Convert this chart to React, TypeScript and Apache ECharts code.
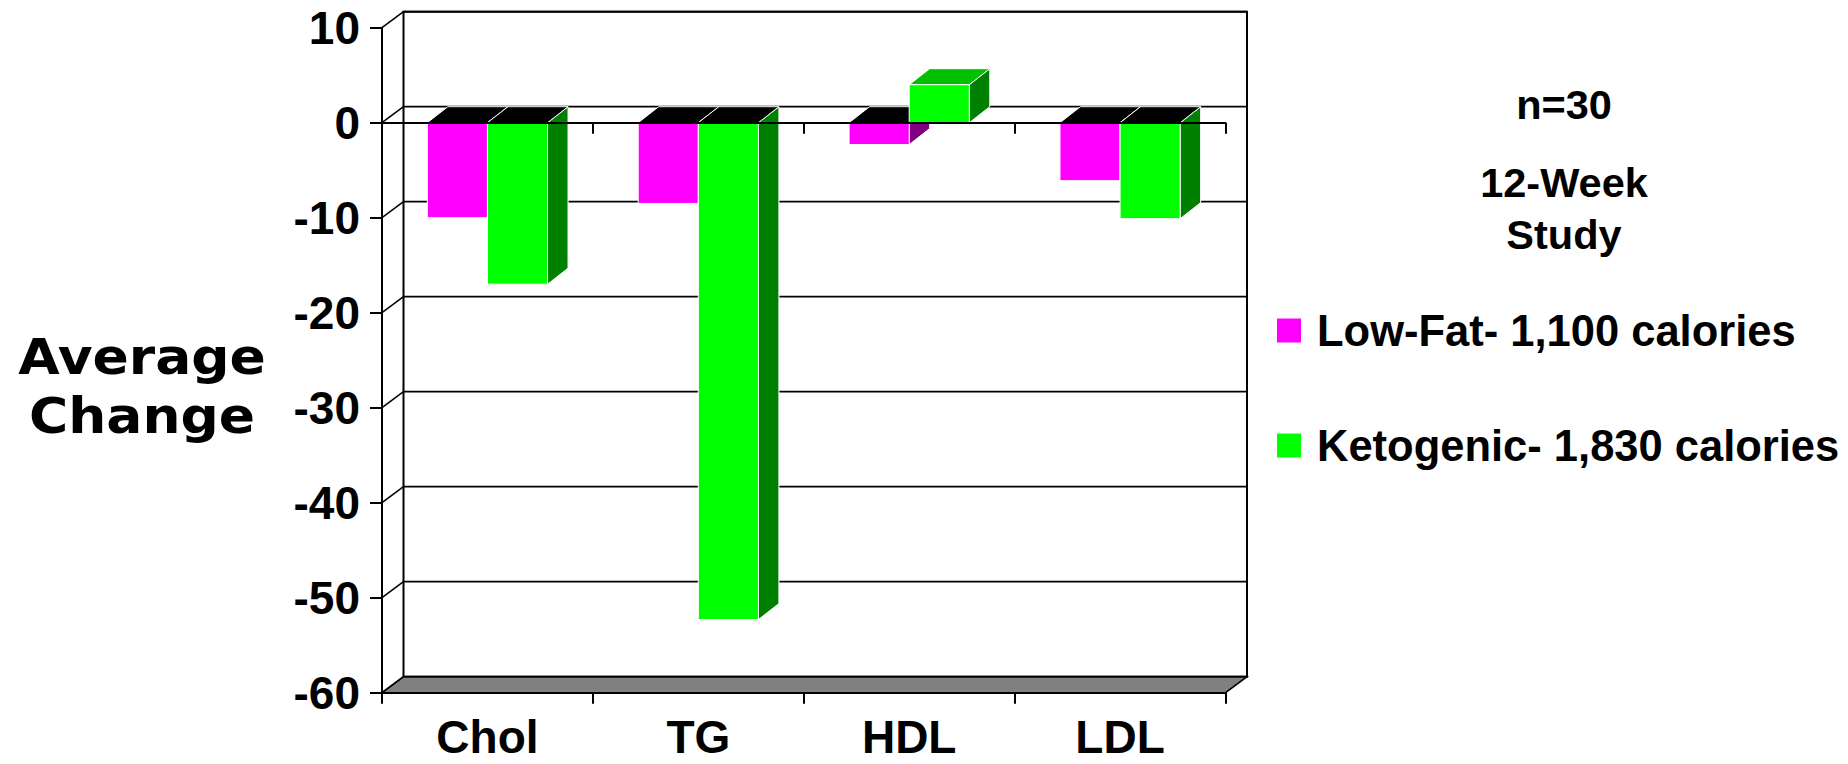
import React, { useEffect, useRef } from "react";
import * as echarts from "echarts";

const categories = ["Chol", "TG", "HDL", "LDL"];
const lowFatValues = [-10, -8.5, -2.3, -6.1];
const ketoValues = [-17, -52.3, 4, -10.1];
const yTicks = [10, 0, -10, -20, -30, -40, -50, -60];
const seriesNames = ["Low-Fat- 1,100 calories", "Ketogenic- 1,830 calories"];
const titleLines = ["n=30", "12-Week", "Study"];
const yTitleLines = ["Average", "Change"];

const FRONT = ["#FF00FF", "#00FF00"];
const SIDE = ["#800080", "#008000"];
const TOP_POS = ["#C000C0", "#00C000"];
const WALL_DX = 21.5;
const WALL_DY = -16;
const BAR_DX = 20.5;
const BAR_DY = -16;

export default function App() {
  const ref = useRef<HTMLDivElement>(null);

  useEffect(() => {
    const chart = echarts.init(ref.current!, undefined, { renderer: "svg" });
    const font = "'Liberation Sans', Arial, Helvetica, sans-serif";

    const makeBar = (s: number, values: number[]) => ({
      type: "custom",
      name: seriesNames[s],
      coordinateSystem: "cartesian2d",
      xAxisIndex: 0,
      yAxisIndex: 0,
      encode: { x: 0, y: 1 },
      itemStyle: { color: FRONT[s] },
      z: 3,
      data: values.map((v, i) => [i, v]),
      renderItem: (params: any, api: any) => {
        const ci = api.value(0);
        const v = api.value(1);
        const c0 = api.coord([ci, 0]);
        const c1 = api.coord([ci, v]);
        const catW = api.size([1, 0])[0];
        const bw = catW * 0.285;
        const x0 = c0[0] - bw + s * bw;
        const x1 = x0 + bw;
        const yz = c0[1];
        const yv = c1[1];
        const st = { stroke: "#ffffff", lineWidth: 1 };
        const children: any[] = [];
        if (v < 0) {
          children.push({
            type: "polygon",
            shape: { points: [[x1, yz], [x1 + BAR_DX, yz + BAR_DY], [x1 + BAR_DX, yv + BAR_DY], [x1, yv]] },
            style: { fill: SIDE[s], ...st },
          });
          children.push({
            type: "polygon",
            shape: { points: [[x0, yz], [x1, yz], [x1 + BAR_DX, yz + BAR_DY], [x0 + BAR_DX, yz + BAR_DY]] },
            style: { fill: "#000000", ...st },
          });
        } else {
          children.push({
            type: "polygon",
            shape: { points: [[x1, yv], [x1 + BAR_DX, yv + BAR_DY], [x1 + BAR_DX, yz + BAR_DY], [x1, yz]] },
            style: { fill: SIDE[s], ...st },
          });
          children.push({
            type: "polygon",
            shape: { points: [[x0, yv], [x1, yv], [x1 + BAR_DX, yv + BAR_DY], [x0 + BAR_DX, yv + BAR_DY]] },
            style: { fill: TOP_POS[s], ...st },
          });
        }
        children.push({
          type: "rect",
          shape: { x: x0, y: Math.min(yz, yv), width: bw, height: Math.abs(yv - yz) },
          style: { fill: FRONT[s], ...st },
        });
        return { type: "group", children };
      },
    });

    const frameSeries = {
      type: "custom",
      name: "frame",
      coordinateSystem: "cartesian2d",
      encode: { x: 0, y: 1 },
      silent: true,
      z: 1,
      data: yTicks.map((v) => [0, v]),
      renderItem: (params: any, api: any) => {
        const cs = params.coordSys;
        const xl = cs.x;
        const xr = cs.x + cs.width;
        const y = api.coord([0, api.value(1)])[1];
        const children: any[] = [];
        if (params.dataIndex === 0) {
          const yt = cs.y;
          const yb = cs.y + cs.height;
          children.push({
            type: "rect",
            shape: { x: xl + WALL_DX, y: yt + WALL_DY, width: cs.width, height: cs.height },
            style: { fill: "#ffffff", stroke: "#000000", lineWidth: 2 },
          });
          children.push({
            type: "polygon",
            shape: { points: [[xl, yb], [xr, yb], [xr + WALL_DX, yb + WALL_DY], [xl + WALL_DX, yb + WALL_DY]] },
            style: { fill: "#808080", stroke: "#000000", lineWidth: 1.5 },
          });
        }
        children.push({
          type: "line",
          shape: { x1: xl + WALL_DX, y1: y + WALL_DY, x2: xr + WALL_DX, y2: y + WALL_DY },
          style: { stroke: "#000000", lineWidth: 1.8 },
        });
        children.push({
          type: "line",
          shape: { x1: xl, y1: y, x2: xl + WALL_DX, y2: y + WALL_DY },
          style: { stroke: "#000000", lineWidth: 1.5 },
        });
        return { type: "group", children };
      },
    };

    const textStyleBase = { fill: "#000000", align: "center", verticalAlign: "middle", fontWeight: "bold" };

    const option: any = {
      animation: false,
      backgroundColor: "#ffffff",
      grid: { left: 382, top: 27.7, width: 843.5, height: 665, containLabel: false },
      xAxis: [
        {
          type: "category",
          data: categories,
          position: "bottom",
          z: 5,
          axisLine: { show: true, onZero: false, lineStyle: { color: "#000", width: 2 } },
          axisTick: { show: true, length: 11, lineStyle: { color: "#000", width: 2 } },
          axisLabel: {
            show: true,
            fontSize: 46,
            fontWeight: "bold",
            fontFamily: font,
            color: "#000",
            margin: 24.5,
            lineHeight: 40,
          },
          splitLine: { show: false },
        },
        {
          type: "category",
          data: categories,
          position: "bottom",
          z: 10,
          axisLine: { show: true, onZero: true, lineStyle: { color: "#000", width: 2 } },
          axisTick: { show: true, length: 11, lineStyle: { color: "#000", width: 2 } },
          axisLabel: { show: false },
          splitLine: { show: false },
        },
      ],
      yAxis: {
        type: "value",
        min: -60,
        max: 10,
        interval: 10,
        z: 5,
        axisLine: { show: true, lineStyle: { color: "#000", width: 2 } },
        axisTick: { show: true, length: 12, lineStyle: { color: "#000", width: 2 } },
        axisLabel: {
          fontSize: 46,
          fontWeight: "bold",
          fontFamily: font,
          color: "#000",
          margin: 22,
        },
        splitLine: { show: false },
      },
      legend: {
        data: seriesNames,
        orient: "vertical",
        left: 1277,
        top: 308.5,
        padding: 0,
        itemWidth: 24,
        itemHeight: 24,
        itemGap: 71,
        icon: "rect",
        selectedMode: false,
        textStyle: {
          fontSize: 43.5,
          fontWeight: "bold",
          fontFamily: font,
          color: "#000",
          lineHeight: 43,
          padding: [0, 0, 0, 11],
        },
      },
      graphic: [
        {
          type: "text",
          x: 142,
          y: 386,
          scaleX: 1.07,
          style: {
            ...textStyleBase,
            text: yTitleLines.join("\n"),
            fontSize: 50,
            lineHeight: 58.5,
            fontFamily: "'DejaVu Sans', sans-serif",
          },
        },
        {
          type: "text",
          x: 1564,
          y: 104,
          style: { ...textStyleBase, text: titleLines[0], fontSize: 41.5, fontFamily: font },
        },
        {
          type: "text",
          x: 1564,
          y: 208.4,
          style: {
            ...textStyleBase,
            text: titleLines.slice(1).join("\n"),
            fontSize: 41.5,
            lineHeight: 51.7,
            fontFamily: font,
          },
        },
      ],
      series: [frameSeries, makeBar(0, lowFatValues), makeBar(1, ketoValues)],
    };

    chart.setOption(option);
    return () => {
      chart.dispose();
    };
  }, []);

  return (
    <div
      ref={ref}
      style={{ position: "fixed", left: 0, top: 0, width: 1848, height: 764, background: "#ffffff" }}
    />
  );
}
